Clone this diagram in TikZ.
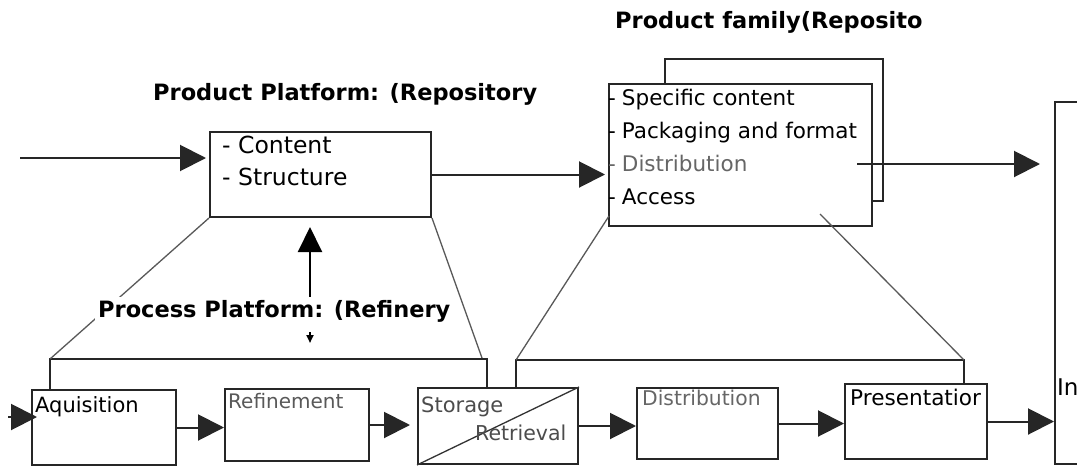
\documentclass[tikz,border=0pt]{standalone}
\usepackage{fontspec}
\setmainfont{DejaVu Sans}
\usetikzlibrary{arrows.meta}
\begin{document}
\begin{tikzpicture}[x=1pt,y=-1pt,
  box/.style={draw=black!85, line width=2pt, fill=white, rectangle, inner sep=0pt, anchor=north west},
  txt/.style={anchor=base west, inner sep=0pt},
  heading/.style={anchor=base west, inner sep=0pt, font=\fontsize{22.5}{26}\selectfont\bfseries},
  flow/.style={draw=black!85, line width=2pt, -{Triangle[length=26pt,width=26pt]}},
  bracket/.style={draw=black!85, line width=2pt},
  slant/.style={draw=black!65, line width=1.3pt},
]
\clip (0,0) rectangle (1077,466);
\fill[white] (0,0) rectangle (1077,466);

% boxes
\node[box, minimum width=221pt, minimum height=85pt] (pp) at (209,131) {};
\node[box, minimum width=218pt, minimum height=142pt] (pfb) at (664,58) {};
\node[box, minimum width=263pt, minimum height=142pt] (pf) at (608,83) {};
\node[box, minimum width=100pt, minimum height=362pt] (inf) at (1054,101) {};
\node[box, minimum width=144pt, minimum height=75pt] (acq) at (31,389) {};
\node[box, minimum width=144pt, minimum height=72pt] (ref) at (224,388) {};
\node[box, minimum width=160pt, minimum height=76pt] (sto) at (417,387) {};
\node[box, minimum width=141pt, minimum height=71pt] (dis) at (636,387) {};
\node[box, minimum width=142pt, minimum height=75pt] (pre) at (844,383) {};

% storage / retrieval split
\draw[line width=1.3pt, black!80] (sto.south west) -- (sto.north east);

% headings
\node[heading] (pptitle) at (153,100) {Product Platform: (Repository};
\node[heading] (pftitle) at (615,28) {Product family(Reposito};

% box texts
\node[txt, font=\fontsize{23.5}{28}\selectfont] (ppa) at (222,153) {- Content};
\node[txt, font=\fontsize{23.5}{28}\selectfont] (ppb) at (222,185) {- Structure};

\node[txt, font=\fontsize{21.5}{26}\selectfont] (pf1) at (608,105) {-\hspace{6pt}Specific content};
\node[txt, font=\fontsize{21.5}{26}\selectfont] (pf2) at (608,138) {-\hspace{6pt}Packaging and format};
\node[txt, font=\fontsize{21.5}{26}\selectfont, text=black!60] (pf3) at (608,171) {-\hspace{6pt}Distribution};
\node[txt, font=\fontsize{21.5}{26}\selectfont] (pf4) at (608,204) {-\hspace{6pt}Access};

\node[txt, font=\fontsize{21}{24}\selectfont] (acqt) at (35,412) {Aquisition};
\node[txt, font=\fontsize{20}{24}\selectfont, text=black!65] (reft) at (228,408) {Refinement};
\node[txt, font=\fontsize{21}{24}\selectfont, text=black!70] (stot) at (421,412) {Storage};
\node[txt, font=\fontsize{20.5}{24}\selectfont, text=black!70] (rett) at (475,440) {Retrieval};
\node[txt, font=\fontsize{20.3}{24}\selectfont, text=black!60] (dist) at (642,405) {Distribution};
\node[txt, font=\fontsize{21.6}{24}\selectfont] (pret) at (850,405) {Presentatior};
\node[txt, font=\fontsize{23}{26}\selectfont] (inft) at (1057,395) {In};

% bracket corners and free line ends
\coordinate (ppL) at (50,359);
\coordinate (ppR) at (487,359);
\coordinate (ppS) at (482,358);
\coordinate (pfL) at (516,360);
\coordinate (pfR) at (964,360);
\coordinate (pfA) at (609,216);
\coordinate (pfB) at (820,214);
\coordinate (src) at (20,158);
\coordinate (src2) at (8,417);
\coordinate (pfout) at (857,164);
\coordinate (tail) at (310,343);

% platform brackets
\draw[bracket] (acq.north -| ppL) -- (ppL) -- (ppR) -- (sto.north -| ppR);
\draw[bracket] (sto.north -| pfL) -- (pfL) -- (pfR) -- (pre.north -| pfR);

% slanted links from the platforms to their brackets
\draw[slant] (pp.south west) -- (ppL);
\draw[slant] (pfA) -- (pfL);
\draw[slant] (pfB) -- (pfR);

% flow arrows
\draw[flow, shorten >=3pt] (src) -- (src -| pp.west);
\draw[flow, shorten >=3pt] (pp.east) -- (pp.east -| pf.west);
\draw[flow, shorten >=14pt] (pfout) -- (pfout -| inf.west);
\draw[flow, shorten >=-6pt] (src2) -- (src2 -| acq.west);
\draw[flow] (acq.east) -- (acq.east -| ref.west);
\draw[flow, shorten >=7pt] (ref.east) -- (ref.east -| sto.west);
\draw[flow] (sto.east) -- (sto.east -| dis.west);
\draw[flow] (dis.east) -- (dis.east -| pre.west);
\draw[flow] (pre.east) -- (pre.east -| inf.west);

% refinery feeds the repository
\draw[black, line width=2pt, {Triangle[length=8pt,width=7pt]}-{Triangle[length=25pt,width=24pt]}, shorten >=9pt] (tail) -- (tail |- pp.south);

\node[heading, fill=white, inner sep=3pt, text depth=12pt] (prtitle) at (95,317) {Process Platform: (Refinery};

\draw[slant] (pp.south east) -- (ppS);
\end{tikzpicture}
\end{document}
